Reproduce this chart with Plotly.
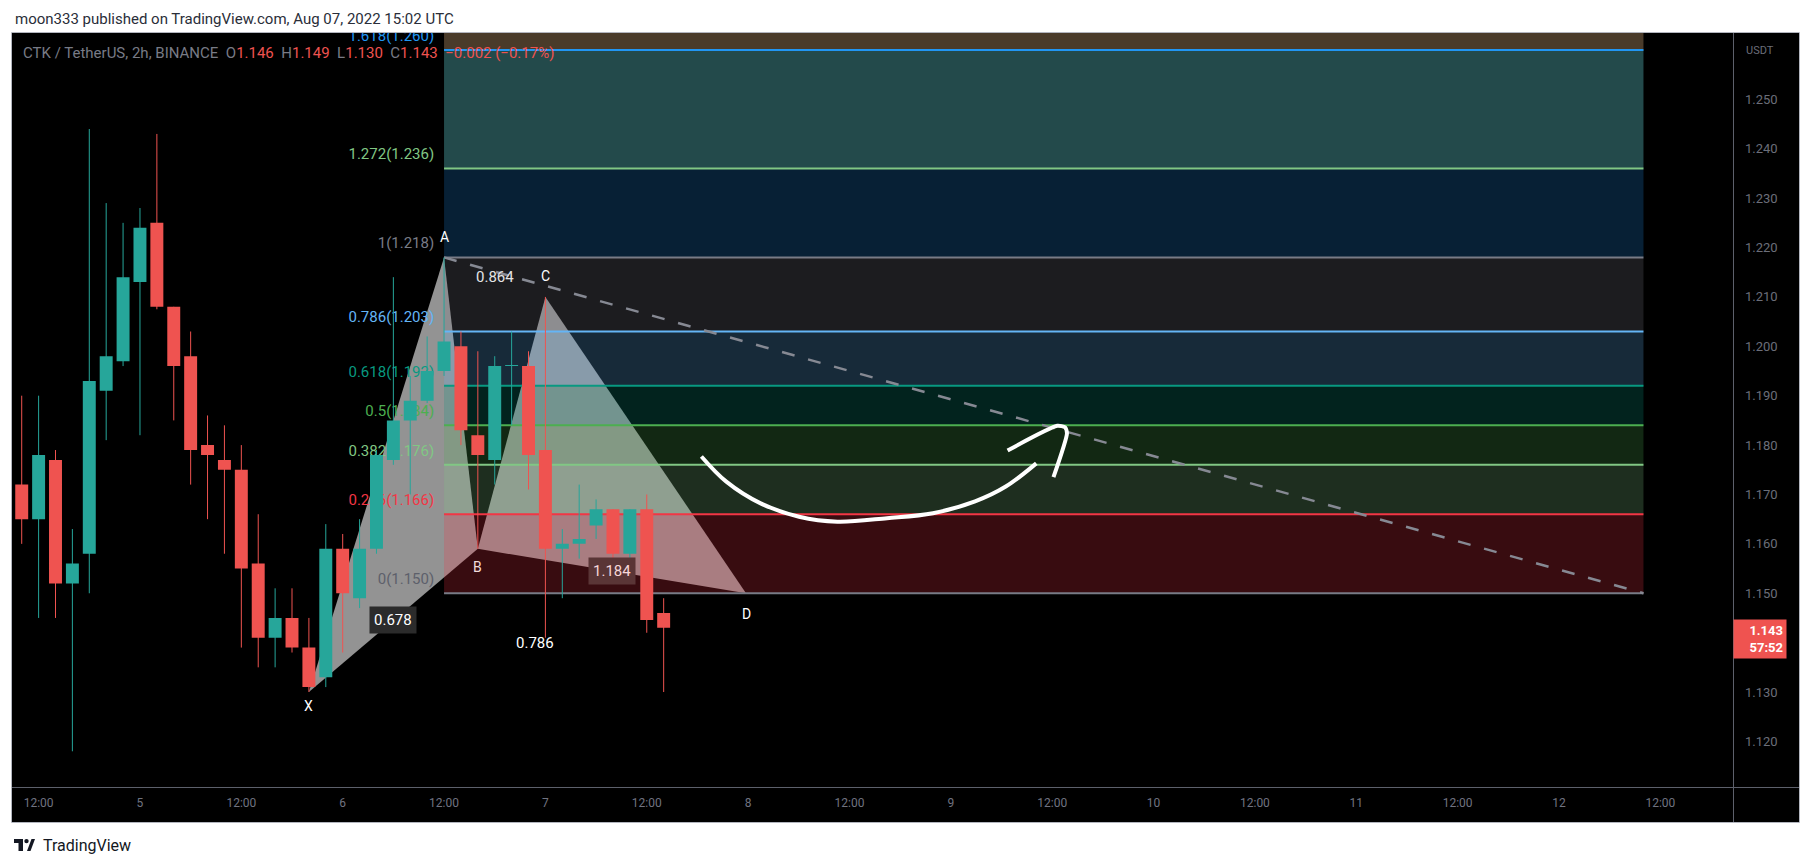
import plotly.graph_objects as go
import pandas as pd

# ---------------- canvas / layout helpers ----------------
# the page body has an 8px margin, so the figure is placed at (8, 8) in the window
OFF = 8
W, H = 1797, 850
ML, MT = 4, 25
PW, PH = 1721, 754
MR = W - ML - PW
MB = H - MT - PH


def px(x):  # window pixel -> paper x
    return (x - OFF - ML) / PW


def py(y):  # window pixel -> paper y
    return (OFF + MT + PH - y) / PH


FONT = "Roboto, 'Open Sans', sans-serif"
UP = "#26a69a"
DOWN = "#ef5350"

# ---------------- data ----------------
candle_start = "2022-08-04 10:00"
opens = [1.172, 1.165, 1.177, 1.152, 1.158, 1.191, 1.197, 1.213, 1.225, 1.208,
         1.198, 1.180, 1.177, 1.175, 1.156, 1.141, 1.145, 1.139, 1.133, 1.159,
         1.149, 1.159, 1.177, 1.185, 1.189, 1.195, 1.200, 1.182, 1.177, 1.196,
         1.196, 1.179, 1.159, 1.160, 1.1637, 1.167, 1.158, 1.167, 1.146]
highs = [1.190, 1.190, 1.179, 1.163, 1.244, 1.229, 1.225, 1.228, 1.243, 1.208,
         1.203, 1.186, 1.184, 1.180, 1.166, 1.151, 1.151, 1.145, 1.164, 1.162,
         1.165, 1.179, 1.214, 1.194, 1.202, 1.218, 1.203, 1.199, 1.198, 1.203,
         1.199, 1.210, 1.163, 1.172, 1.169, 1.167, 1.167, 1.170, 1.149]
lows = [1.160, 1.145, 1.145, 1.118, 1.150, 1.181, 1.196, 1.182, 1.2075, 1.185,
        1.172, 1.165, 1.158, 1.139, 1.135, 1.135, 1.138, 1.130, 1.131, 1.138,
        1.147, 1.158, 1.176, 1.170, 1.1885, 1.194, 1.180, 1.159, 1.172, 1.184,
        1.171, 1.141, 1.149, 1.157, 1.161, 1.1545, 1.152, 1.142, 1.130]
closes = [1.165, 1.178, 1.152, 1.156, 1.193, 1.198, 1.214, 1.224, 1.208, 1.196,
          1.179, 1.178, 1.175, 1.155, 1.141, 1.145, 1.139, 1.131, 1.159, 1.150,
          1.159, 1.178, 1.185, 1.189, 1.195, 1.201, 1.183, 1.178, 1.196, 1.1962,
          1.178, 1.159, 1.160, 1.161, 1.167, 1.158, 1.167, 1.1446, 1.143]
times = pd.date_range(candle_start, periods=len(opens), freq="2h")

# XABCD harmonic pattern
pattern_names = ["X", "A", "B", "C", "D"]
pattern_times = ["2022-08-05 20:00", "2022-08-06 12:00", "2022-08-06 16:00",
                 "2022-08-07 00:00", "2022-08-07 23:45"]
pattern_prices = [1.130, 1.218, 1.159, 1.210, 1.150]
pattern_ratios = ["0.678", "0.864", "1.184", "0.786"]  # XB, AC, BD, XD

# Fibonacci retracement
fib_start, fib_end = "2022-08-06 12:00", "2022-08-12 10:00"
fib_ratios = ["0", "0.236", "0.382", "0.5", "0.618", "0.786", "1", "1.272", "1.618", "2.618"]
fib_prices = [1.150, 1.166, 1.176, 1.184, 1.192, 1.203, 1.218, 1.236, 1.260, 1.328]
fib_line_colors = ["#787b86", "#f23645", "#81c784", "#4caf50", "#089981",
                   "#64b5f6", "#787b86", "#81c784", "#2196f3", "#ff9800"]
fib_label_colors = ["#5d606b", "#f23645", "#81c784", "#4caf50", "#089981",
                    "#64b5f6", "#787b86", "#81c784", "#2196f3", "#ff9800"]
fib_fill_colors = ["rgba(242,54,69,0.23)", "rgba(129,199,132,0.23)", "rgba(76,175,80,0.23)",
                   "rgba(8,153,129,0.23)", "rgba(100,181,246,0.23)", "rgba(120,123,134,0.23)",
                   "#072035", "#234a4b", "#4a3b2a"]

# hand-drawn arrow
curve_times = ["2022-08-07 18:28", "2022-08-07 21:25", "2022-08-08 01:29", "2022-08-08 06:02",
               "2022-08-08 10:34", "2022-08-08 16:27", "2022-08-08 21:53", "2022-08-09 02:52",
               "2022-08-09 06:30", "2022-08-09 10:07"]
curve_prices = [1.1777, 1.1726, 1.1682, 1.1655, 1.1645, 1.1652, 1.1662, 1.1686, 1.1716, 1.1763]
head_times = ["2022-08-09 06:43", "2022-08-09 12:36", "2022-08-09 13:31",
              "2022-08-09 13:45", "2022-08-09 12:09"]
head_prices = [1.1789, 1.1839, 1.1836, 1.1824, 1.1735]

# axes (1.140 is hidden behind the last-price label in the original)
x_range = ["2022-08-04 08:51", "2022-08-12 20:36"]
y_range = [1.11077, 1.26344]
x_tick_vals = ["2022-08-04 12:00", "2022-08-05 00:00", "2022-08-05 12:00", "2022-08-06 00:00",
               "2022-08-06 12:00", "2022-08-07 00:00", "2022-08-07 12:00", "2022-08-08 00:00",
               "2022-08-08 12:00", "2022-08-09 00:00", "2022-08-09 12:00", "2022-08-10 00:00",
               "2022-08-10 12:00", "2022-08-11 00:00", "2022-08-11 12:00", "2022-08-12 00:00",
               "2022-08-12 12:00"]
x_tick_text = ["12:00", "5", "12:00", "6", "12:00", "7", "12:00", "8", "12:00",
               "9", "12:00", "10", "12:00", "11", "12:00", "12", "12:00"]
y_tick_vals = [1.12, 1.13, 1.15, 1.16, 1.17, 1.18, 1.19, 1.20, 1.21, 1.22, 1.23, 1.24, 1.25]
y_tick_text = ["1.120", "1.130", "1.150", "1.160", "1.170", "1.180", "1.190",
               "1.200", "1.210", "1.220", "1.230", "1.240", "1.250"]

legend_symbol = "CTK / TetherUS, 2h, BINANCE"
legend_ohlc = [("O", "1.146"), ("H", "1.149"), ("L", "1.130"), ("C", "1.143")]
legend_change = "−0.002 (−0.17%)"
last_price, countdown = "1.143", "57:52"
header = "moon333 published on TradingView.com, Aug 07, 2022 15:02 UTC"

# ---------------- figure ----------------
fig = go.Figure()

# pattern triangles (below fib fills)
for idx in ([0, 1, 2], [2, 3, 4]):
    xs = [pattern_times[i] for i in idx] + [pattern_times[idx[0]]]
    ys = [pattern_prices[i] for i in idx] + [pattern_prices[idx[0]]]
    fig.add_trace(go.Scatter(x=xs, y=ys, mode="lines", fill="toself",
                             fillcolor="rgb(147,147,147)", line=dict(width=0),
                             hoverinfo="skip"))

# fib fills
for i in range(len(fib_prices) - 1):
    lo, hi = fib_prices[i], fib_prices[i + 1]
    fig.add_trace(go.Scatter(x=[fib_start, fib_end, fib_end, fib_start, fib_start],
                             y=[lo, lo, hi, hi, lo], mode="lines", fill="toself",
                             fillcolor=fib_fill_colors[i], line=dict(width=0),
                             hoverinfo="skip"))

# fib lines
for i in range(len(fib_prices)):
    fig.add_trace(go.Scatter(x=[fib_start, fib_end], y=[fib_prices[i], fib_prices[i]],
                             mode="lines", line=dict(color=fib_line_colors[i], width=2),
                             hoverinfo="skip"))

# fib labels (text, clipped at the pane; candles are drawn over them)
lbl_x = pd.Timestamp(fib_start) - pd.Timedelta(minutes=70)
lbl_dy = 13 / 4940
for i in range(len(fib_prices)):
    fig.add_trace(go.Scatter(x=[lbl_x], y=[fib_prices[i] + lbl_dy], mode="text",
                             text=[f"{fib_ratios[i]}({fib_prices[i]:.3f})"],
                             textposition="middle left",
                             textfont=dict(color=fib_label_colors[i], size=15, family=FONT),
                             hoverinfo="skip", cliponaxis=True))

# fib trend (dashed diagonal)
fig.add_trace(go.Scatter(x=[fib_start, fib_end], y=[fib_prices[6], fib_prices[0]],
                         mode="lines", line=dict(color="#868993", width=2.5, dash="13px,14px"),
                         hoverinfo="skip"))

# candles: wicks then bodies (bodies as filled scatter polygons so they sit above the fills)
half_body = pd.Timedelta(minutes=46)
for col, is_up in ((UP, True), (DOWN, False)):
    wx, wy, bx, by = [], [], [], []
    for t, o, h, l, c in zip(times, opens, highs, lows, closes):
        if (c >= o) != is_up:
            continue
        wx += [t, t, None]
        wy += [l, h, None]
        lo_b, hi_b = min(o, c), max(o, c)
        if hi_b - lo_b < 0.0002:
            hi_b = lo_b + 0.0002
        bx += [t - half_body, t + half_body, t + half_body, t - half_body, t - half_body, None]
        by += [lo_b, lo_b, hi_b, hi_b, lo_b, None]
    fig.add_trace(go.Scatter(x=wx, y=wy, mode="lines", line=dict(color=col, width=1),
                             hoverinfo="skip"))
    fig.add_trace(go.Scatter(x=bx, y=by, mode="lines", fill="toself", fillcolor=col,
                             line=dict(width=0, color=col), hoverinfo="skip"))

# hand drawing
fig.add_trace(go.Scatter(x=curve_times, y=curve_prices, mode="lines",
                         line=dict(color="white", width=4, shape="spline", smoothing=1.0),
                         hoverinfo="skip"))
fig.add_trace(go.Scatter(x=head_times, y=head_prices, mode="lines",
                         line=dict(color="white", width=4, shape="spline", smoothing=0.6),
                         hoverinfo="skip"))

annotations = []

# pattern point labels
label_offsets = {"X": ("top", -4), "A": ("bottom", 10), "B": ("top", -8),
                 "C": ("bottom", 11), "D": ("top", -11)}
for n, t, p in zip(pattern_names, pattern_times, pattern_prices):
    anc, sh = label_offsets[n]
    col = "#f2dcdc" if n == "B" else "white"
    annotations.append(dict(x=t, y=p, xref="x", yref="y", text=n, showarrow=False,
                            yanchor=anc, yshift=sh,
                            font=dict(color=col, size=14, family=FONT)))

# pattern ratio labels at midpoints of XB, AC, BD, XD
pairs = [(0, 2), (1, 3), (2, 4), (0, 4)]
ratio_styles = [dict(bgcolor="#2b2b2b", font_color="white", xshift=0),
                dict(bgcolor=None, font_color="#e4e4e6", xshift=0),
                dict(bgcolor="#5a3536", font_color="#f7d6d8", xshift=0),
                dict(bgcolor=None, font_color="white", xshift=8)]
for (a, b), r, st in zip(pairs, pattern_ratios, ratio_styles):
    ta, tb = pd.Timestamp(pattern_times[a]), pd.Timestamp(pattern_times[b])
    tm = ta + (tb - ta) / 2
    pm = (pattern_prices[a] + pattern_prices[b]) / 2
    ann = dict(x=tm, y=pm, xref="x", yref="y", text=r, showarrow=False,
               xshift=st["xshift"],
               font=dict(color=st["font_color"], size=15, family=FONT), borderpad=4)
    if st["bgcolor"]:
        ann["bgcolor"] = st["bgcolor"]
    annotations.append(ann)

# header
annotations.append(dict(x=px(13), y=py(19), xref="paper", yref="paper", text=header,
                        showarrow=False, xanchor="left", yanchor="middle",
                        font=dict(color="#2a2e39", size=15, family=FONT)))

# legend line
gray = "#787b86"
parts = [f'<span style="color:{gray}">{legend_symbol}</span>']
for k, v in legend_ohlc:
    parts.append(f'&nbsp;&nbsp;<span style="color:{gray}">{k}</span><span style="color:{DOWN}">{v}</span>')
parts.append(f'&nbsp;&nbsp;<span style="color:{DOWN}">{legend_change}</span>')
annotations.append(dict(x=px(21), y=py(53), xref="paper", yref="paper", text="".join(parts),
                        showarrow=False, xanchor="left", yanchor="middle",
                        font=dict(size=15, family=FONT, color=gray)))

# USDT
annotations.append(dict(x=px(1760), y=py(50), xref="paper", yref="paper", text="USDT",
                        showarrow=False, xanchor="center", yanchor="middle",
                        font=dict(size=11, family=FONT, color="#6b6e79")))

# last price label
annotations.append(dict(x=1, y=float(last_price), xref="paper", yref="y",
                        text=f"<b>{last_price}</b><br><b>{countdown}</b>", showarrow=False,
                        xanchor="left", yanchor="top", yshift=9, xshift=0,
                        width=46, align="right", borderpad=3, bgcolor=DOWN,
                        font=dict(color="white", size=13, family=FONT)))

# footer text
annotations.append(dict(x=px(41), y=py(845), xref="paper", yref="paper", text="TradingView",
                        showarrow=False, xanchor="left", yanchor="middle",
                        font=dict(color="#131722", size=16, family=FONT)))

shapes = []
# black axis strips
shapes.append(dict(type="rect", xref="paper", yref="paper", x0=px(1733), x1=px(1799),
                   y0=py(822), y1=py(33), fillcolor="black", line=dict(width=0), layer="below"))
shapes.append(dict(type="rect", xref="paper", yref="paper", x0=px(11), x1=px(1799),
                   y0=py(822), y1=py(787), fillcolor="black", line=dict(width=0), layer="below"))
# separators
shapes.append(dict(type="line", xref="paper", yref="paper", x0=px(1733.5), x1=px(1733.5),
                   y0=py(822), y1=py(33), line=dict(color="#5d606b", width=1), layer="above"))
shapes.append(dict(type="line", xref="paper", yref="paper", x0=px(11), x1=px(1799),
                   y0=py(787.5), y1=py(787.5), line=dict(color="#5d606b", width=1), layer="above"))
# outer border
shapes.append(dict(type="rect", xref="paper", yref="paper", x0=px(11.5), x1=px(1799.5),
                   y0=py(822.5), y1=py(32.5), line=dict(color="#b2b5be", width=1),
                   fillcolor="rgba(0,0,0,0)", layer="above"))


# TradingView logo
def pp(pts):
    return "M " + " L ".join(f"{px(a):.5f},{py(b):.5f}" for a, b in pts) + " Z"


logo = "#131722"
shapes.append(dict(type="path", xref="paper", yref="paper",
                   path=pp([(14, 839), (23, 839), (23, 851), (18.5, 851), (18.5, 843), (14, 843)]),
                   fillcolor=logo, line=dict(width=0), layer="above"))
shapes.append(dict(type="circle", xref="paper", yref="paper", x0=px(24.3), x1=px(28.7),
                   y0=py(843.3), y1=py(838.9), fillcolor=logo, line=dict(width=0), layer="above"))
shapes.append(dict(type="path", xref="paper", yref="paper",
                   path=pp([(27, 851), (31.5, 839), (35, 839), (30.5, 851)]),
                   fillcolor=logo, line=dict(width=0), layer="above"))

fig.update_layout(
    width=W, height=H, autosize=False,
    margin=dict(l=ML, r=MR, t=MT, b=MB, pad=0),
    paper_bgcolor="white", plot_bgcolor="black",
    showlegend=False, hovermode=False,
    font=dict(family=FONT),
    annotations=annotations, shapes=shapes,
    xaxis=dict(type="date", range=x_range, showgrid=False, zeroline=False,
               tickvals=x_tick_vals, ticktext=x_tick_text, ticks="",
               ticklabelstandoff=7, tickfont=dict(color="#707380", size=12, family=FONT),
               showline=False, fixedrange=True),
    yaxis=dict(range=y_range, side="right", showgrid=False, zeroline=False,
               tickvals=y_tick_vals, ticktext=y_tick_text, ticks="",
               ticklabelstandoff=11, tickfont=dict(color="#6b6e79", size=13, family=FONT),
               showline=False, fixedrange=True),
)

fig.write_html("out.html", config={"displayModeBar": False})
